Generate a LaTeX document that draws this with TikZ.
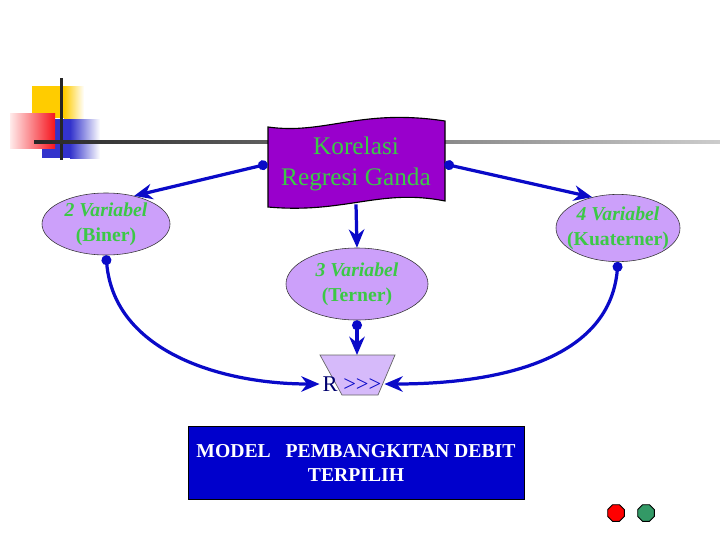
\documentclass[tikz,border=0pt]{standalone}
\usepackage{fontspec}
\setmainfont{Liberation Serif}
\usepackage{xcolor}
\usepackage{tikz}
\usetikzlibrary{arrows.meta,shapes.geometric,positioning}

\definecolor{bannerpurple}{RGB}{153,0,204}
\definecolor{lilac}{RGB}{204,160,250}
\definecolor{lightlilac}{RGB}{214,186,250}
\definecolor{txtgreen}{RGB}{60,200,70}
\definecolor{linkblue}{RGB}{10,10,200}
\definecolor{boxblue}{RGB}{0,0,204}
\definecolor{navyR}{RGB}{0,0,110}
\definecolor{btngreen}{RGB}{51,153,102}
\definecolor{logoyellow}{RGB}{255,204,0}
\definecolor{logoblue}{RGB}{51,51,204}
\definecolor{logored}{RGB}{245,20,30}

\tikzset{
  varnode/.style={ellipse, draw=black!80, fill=lilac, inner sep=0pt},
  vartext/.style={align=center, text=txtgreen, inner sep=0pt, font=\fontsize{14}{18}\selectfont\bfseries},
  link/.style={draw=linkblue, line width=2.3pt, -{Stealth[length=13pt,width=11pt]}},
  dotlink/.style={link, {Circle[length=7pt]}-{Stealth[length=13pt,width=11pt]}},
  button/.style={regular polygon, regular polygon sides=8, minimum size=0.45cm, inner sep=0pt, draw=black, line width=0.6pt},
}

\begin{document}
\begin{tikzpicture}[x=0.025cm, y=-0.025cm]
		\useasboundingbox (0,0) rectangle (720,540);

		% logo in the corner
		\fill[logoyellow] (32,86) rectangle (64,118);
		\shade[left color=logoyellow, right color=white] (64,86) rectangle (84,118);
		\fill[logoblue] (42,119) rectangle (70,158);
		\shade[left color=logoblue, right color=white] (70,119) rectangle (100,158);
		\shade[left color=red!8, right color=logored] (10,113) rectangle (55,148);
		\fill[black!85] (60,78) rectangle (63,160);
		\shade[left color=black!85, right color=black!20] (34,140) rectangle (720,143);

		% banner
		\filldraw[fill=bannerpurple, draw=black, line width=0.8pt] (268,127) .. controls (325,135) and (360,108) .. (445,121) -- (445,201) .. controls (380,188) and (345,214) .. (268,207) -- cycle;
		\node[font=\fontsize{18}{21.5}\selectfont, text=txtgreen, align=center, minimum width=4.4cm, minimum height=2cm] (kor) at (356,164) {Korelasi\\Regresi Ganda};

		% the three ellipses
		\node[varnode, minimum width=3.2cm, minimum height=1.55cm] (var2) at (106,224) {};
		\node[vartext] (var2txt) at (var2) {\textit{2 Variabel}\\(Biner)};
		\node[varnode, minimum width=3.1cm, minimum height=1.68cm] (var4) at (618,228) {};
		\node[vartext] (var4txt) at (var4) {\textit{4 Variabel}\\(Kuaterner)};
		\node[varnode, minimum width=3.55cm, minimum height=1.8cm] (var3) at (357,284) {};
		\node[vartext] (var3txt) at (var3) {\textit{3 Variabel}\\(Terner)};

		% funnel
		\filldraw[fill=lightlilac, draw=black!60, line width=0.5pt] (320,355) -- (395,355) -- (378,395) -- (342,395) -- cycle;
		\coordinate (trap) at (357,355);
		\node[font=\fontsize{16}{18}\selectfont, inner sep=2pt] (rtxt) at (352,384) {\textcolor{navyR}{R} \textcolor{linkblue}{>{}>{}>}};

		% links
		\draw[dotlink] (kor.west) -- (var2.45);
		\draw[dotlink] (kor.east) -- (var4.130);
		\draw[link] (kor.south) -- (var3.north);
		\draw[dotlink] (var3.south) -- (trap);
		\draw[dotlink] (var2.south) to[out=-85, in=180] (rtxt.west);
		\draw[dotlink] (var4.south) to[out=-95, in=0] (rtxt.east);

		\node[draw=black, fill=boxblue, text=white, font=\fontsize{14}{17}\selectfont\bfseries, align=center, minimum width=8.4cm, minimum height=1.82cm] (model) at (356,463) {MODEL\ \ \ PEMBANGKITAN DEBIT\\TERPILIH};

		\node[button, fill=red] (btnred) at (616,513) {};
		\node[button, fill=btngreen] (btngrn) at (646,513) {};
	\end{tikzpicture}
\end{document}
